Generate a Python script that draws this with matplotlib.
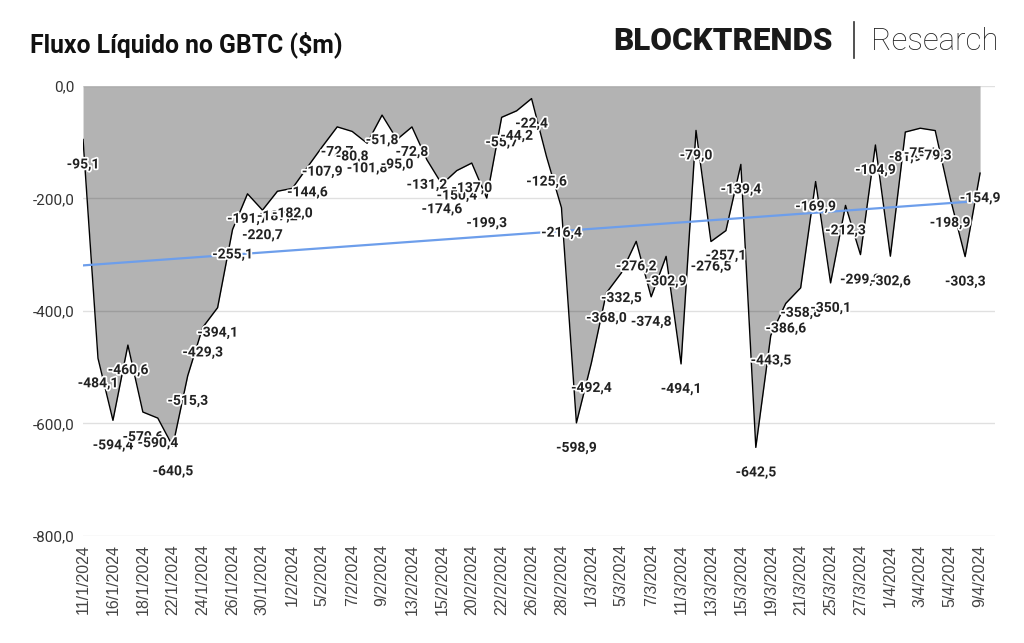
import numpy as np
import matplotlib
matplotlib.use("Agg")
import matplotlib.pyplot as plt
import matplotlib.patheffects as pe
from matplotlib.lines import Line2D

# GBTC daily net flow ($m), trading days 11/1/2024 .. 9/4/2024
dates = ["11/1/2024", "12/1/2024", "16/1/2024", "17/1/2024", "18/1/2024", "19/1/2024",
         "22/1/2024", "23/1/2024", "24/1/2024", "25/1/2024", "26/1/2024", "29/1/2024",
         "30/1/2024", "31/1/2024",
         "1/2/2024", "2/2/2024", "5/2/2024", "6/2/2024", "7/2/2024", "8/2/2024",
         "9/2/2024", "12/2/2024", "13/2/2024", "14/2/2024", "15/2/2024", "16/2/2024",
         "20/2/2024", "21/2/2024", "22/2/2024", "23/2/2024", "26/2/2024", "27/2/2024",
         "28/2/2024", "29/2/2024",
         "1/3/2024", "4/3/2024", "5/3/2024", "6/3/2024", "7/3/2024", "8/3/2024",
         "11/3/2024", "12/3/2024", "13/3/2024", "14/3/2024", "15/3/2024", "18/3/2024",
         "19/3/2024", "20/3/2024", "21/3/2024", "22/3/2024", "25/3/2024", "26/3/2024",
         "27/3/2024", "28/3/2024",
         "1/4/2024", "2/4/2024", "3/4/2024", "4/4/2024", "5/4/2024", "8/4/2024",
         "9/4/2024"]
flows = [-95.1, -484.1, -594.4, -460.6, -579.6, -590.4,
         -640.5, -515.3, -429.3, -394.1, -255.1, -191.7,
         -220.7, -187.2,
         -182.0, -144.6, -107.9, -72.7, -80.8, -101.8,
         -51.8, -95.0, -72.8, -131.2, -174.6, -150.4,
         -137.0, -199.3, -55.7, -44.2, -22.4, -125.6,
         -216.4, -598.9,
         -492.4, -368.0, -332.5, -276.2, -374.8, -302.9,
         -494.1, -79.0, -276.5, -257.1, -139.4, -642.5,
         -443.5, -386.6, -358.8, -169.9, -350.1, -212.3,
         -299.8, -104.9,
         -302.6, -81.9, -75.1, -79.3, -198.9, -303.3,
         -154.9]
yticks = [0, -200, -400, -600, -800]

plt.rcParams["font.family"] = ["Roboto", "DejaVu Sans"]

x = np.arange(len(flows))
y = np.array(flows)

fig = plt.figure(figsize=(10.24, 6.43), dpi=100)
ax = fig.add_axes([0.0811, 0.1664, 0.8906, 0.6999])

ax.fill_between(x, 0, y, color="#b3b3b3", lw=0, zorder=1)
ax.plot(x, y, color="black", lw=1.0, zorder=3)

# linear trend
k, b = np.polyfit(x, y, 1)
ax.plot(x, k * x + b, color="#6d9eeb", lw=1.6, zorder=4)

# gridlines on top of the fill
for t in yticks:
    ax.axhline(t, color="black", alpha=0.12, lw=1.0, zorder=2)

for xi, yi in zip(x, y):
    lbl = f"{yi:.1f}".replace(".", ",")
    ax.annotate(lbl, (xi, yi), xytext=(0, -18), textcoords="offset points",
                ha="center", va="center", fontsize=10, fontweight="bold",
                color="#222222", zorder=5,
                path_effects=[pe.withStroke(linewidth=2.5, foreground="white")])

ax.set_xlim(0, 61)
ax.set_ylim(-800, 0)
ax.set_yticks(yticks)
ax.set_yticklabels([f"{t:.1f}".replace(".", ",") for t in yticks],
                   fontsize=11, color="#333333")
ax.set_xticks(x[::2])
ax.set_xticklabels(dates[::2], rotation=90, fontsize=11.5, color="#444444",
                   family=["Liberation Sans", "DejaVu Sans"])
ax.tick_params(length=0, pad=6)
for s in ax.spines.values():
    s.set_visible(False)

fig.text(0.029, 0.919, "Fluxo Líquido no GBTC (\\$m)", fontsize=17.8,
         fontweight="bold", color="#111111", va="baseline")
fig.text(0.599, 0.922, "BLOCKTRENDS", fontsize=22.5, fontweight="black",
         color="#1a1a1a", va="baseline")
fig.text(0.851, 0.922, "Research", fontsize=22.5, fontweight="light",
         color="#222222", va="baseline")
fig.add_artist(Line2D([0.8335, 0.8335], [0.91, 0.966], transform=fig.transFigure,
                      color="#333333", lw=1.2))

fig.savefig("out.png", dpi=100)
